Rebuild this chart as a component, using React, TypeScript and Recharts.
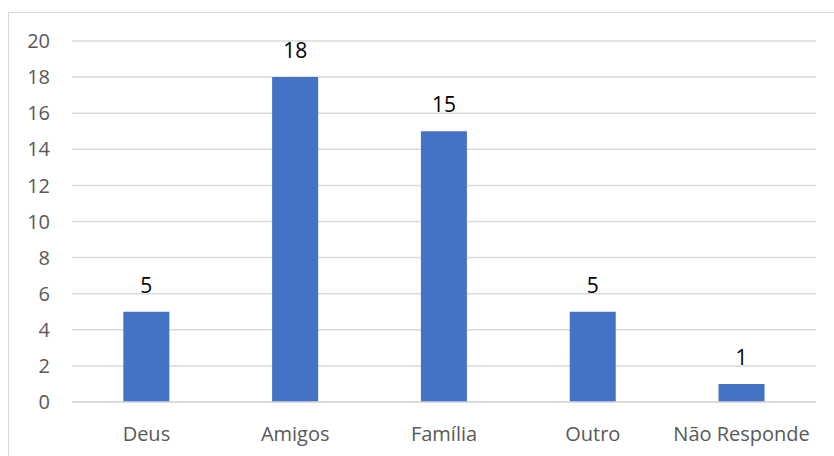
import { Bar, BarChart, CartesianGrid, LabelList, XAxis, YAxis } from "recharts";

const categories = ["Deus", "Amigos", "Família", "Outro", "Não Responde"];
const counts = [5, 18, 15, 5, 1];
const yTicks = [0, 2, 4, 6, 8, 10, 12, 14, 16, 18, 20];

const data = categories.map((name, i) => ({ name, value: counts[i] }));

const FONT = "'Open Sans', sans-serif";

export default function App() {
	return (
		<div
			style={{
				position: "absolute",
				left: 0,
				top: 0,
				width: 834,
				height: 456,
				overflow: "hidden",
				background: "#fff",
			}}
		>
			{/* chart frame, cut off on the right and bottom like the source */}
			<div
				style={{
					position: "absolute",
					left: 8,
					top: 12,
					width: 900,
					height: 500,
					border: "1px solid #d9d9d9",
					boxSizing: "border-box",
				}}
			/>
			<div style={{ position: "absolute", left: 0, top: 0 }}>
				<BarChart
					width={834}
					height={456}
					data={data}
					margin={{ top: 41, right: 18, bottom: 24, left: 12 }}
					barCategoryGap="34.5%"
				>
					<CartesianGrid vertical={false} stroke="#d9d9d9" strokeWidth={1.5} />
					<XAxis
						dataKey="name"
						height={30}
						tickLine={false}
						axisLine={{ stroke: "#d9d9d9", strokeWidth: 1.5 }}
						tickMargin={19}
						tick={{ fill: "#595959", fontSize: 20, fontFamily: FONT }}
						interval={0}
					/>
					<YAxis
						width={60}
						domain={[0, 20]}
						ticks={yTicks}
						tickLine={false}
						axisLine={false}
						tickMargin={16}
						tick={{ fill: "#595959", fontSize: 20, fontFamily: FONT }}
					/>
					<Bar dataKey="value" fill="#4472C4" isAnimationActive={false}>
						<LabelList
							dataKey="value"
							position="top"
							offset={19}
							fill="#000"
							fontSize={21}
							fontFamily={FONT}
						/>
					</Bar>
				</BarChart>
			</div>
		</div>
	);
}
